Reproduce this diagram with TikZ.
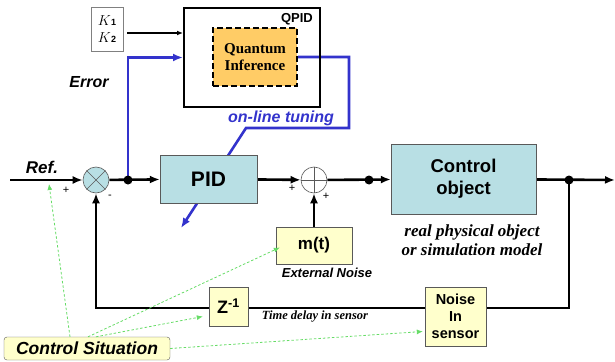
\documentclass[tikz,border=0pt]{standalone}
\usepackage{fontspec}
\setmainfont{Liberation Serif}
\setsansfont{Liberation Sans}
\usetikzlibrary{arrows.meta,calc,positioning}
\definecolor{blockcyan}{RGB}{184,223,228}
\definecolor{noiseyellow}{RGB}{255,255,204}
\definecolor{qorange}{RGB}{255,204,102}
\definecolor{tuneblue}{RGB}{51,51,204}
\definecolor{hintgreen}{RGB}{102,220,102}
\pgfdeclarelayer{edgelayer}
\pgfsetlayers{edgelayer,main}
\tikzset{
  blockbox/.style={draw=gray!70!black,fill=blockcyan,font=\sffamily\bfseries,align=center,inner sep=0pt},
  noisebox/.style={draw=gray!70!black,fill=noiseyellow,font=\sffamily\bfseries,align=center,inner sep=0pt},
  sumnode/.style={circle,draw=gray!70!black,line width=0.6pt,minimum size=26pt,inner sep=0pt},
  junction/.style={circle,fill=black,inner sep=0pt,minimum size=9pt},
  sig/.style={line width=2.6pt,-{Latex[length=10pt,width=8pt]}},
  tune/.style={tuneblue,line width=2.6pt},
  hint/.style={hintgreen,line width=0.8pt,dash pattern=on 2.5pt off 2pt,-{Latex[length=6pt,width=5pt]}},
  signtext/.style={font=\sffamily\fontsize{11}{11}\selectfont,inner sep=0pt},
}

\begin{document}
\begin{tikzpicture}[x=1pt,y=-1pt]
\useasboundingbox (0,0) rectangle (615,361);
% forward path
\coordinate (refin) at (10,180);
\node[sumnode,fill=blockcyan] (s1) at (96,180) {};
\draw[gray!70!black,line width=0.6pt] (s1.north west) -- (s1.south east) (s1.north east) -- (s1.south west);
\node[junction] (d1) at (128,180) {};
\node[blockbox,minimum width=97pt,minimum height=48pt,font=\sffamily\bfseries\fontsize{21}{21}\selectfont] (pid) at (208.5,179) {PID};
\node[sumnode,fill=white] (s2) at (314,180) {};
\draw[gray!70!black,line width=0.6pt] (s2.north) -- (s2.south) (s2.west) -- (s2.east);
\node[junction] (d2) at (369,180) {};
\node[blockbox,minimum width=145pt,minimum height=70pt,font=\sffamily\bfseries\fontsize{18.5}{22}\selectfont] (plant) at (463.5,179) {Control\\object};
\node[junction] (d3) at (569,180) {};
\coordinate (out) at (615,180);
% disturbances and sensor
\node[noisebox,minimum width=76pt,minimum height=37pt,font=\sffamily\bfseries\fontsize{17}{17}\selectfont] (mt) at (314,245.5) {m(t)};
\node[noisebox,minimum width=39pt,minimum height=39pt,font=\sffamily\bfseries\fontsize{18}{18}\selectfont] (zd) at (228.5,306.5) {Z\textsuperscript{-1}};
\node[noisebox,minimum width=61pt,minimum height=59pt,font=\sffamily\bfseries\fontsize{14.5}{17}\selectfont] (ns) at (455.5,316.5) {Noise\\In\\sensor};
\node[noisebox,rounded corners=3pt,minimum width=166pt,minimum height=23pt,font=\sffamily\bfseries\itshape\fontsize{17.5}{17.5}\selectfont] (cs) at (87,348.5) {Control Situation};
\coordinate (fbr) at (569,308);
\coordinate (fbl) at (96,308);
% tuning part
\node[draw,line width=2pt,minimum width=136pt,minimum height=99pt] (qpid) at (252,57.5) {};
\node[anchor=north east,inner sep=0pt,font=\sffamily\bfseries\fontsize{13}{13}\selectfont] (qpidlabel) at ($(qpid.north east)+(-8,6)$) {QPID};
\node[draw,dash pattern=on 6pt off 3pt,line width=1.8pt,fill=qorange,minimum width=84pt,minimum height=58pt,align=center,inner sep=0pt,font=\bfseries\fontsize{15}{17}\selectfont] (qi) at (255,57) {Quantum\\Inference};
\node[draw=gray,line width=0.6pt,minimum width=32pt,minimum height=44pt,align=center,inner sep=0pt,font=\fontsize{15}{17}\selectfont] (kbox) at (107,29) {$K$\textsf{\bfseries\small 1}\\$K$\textsf{\bfseries\small 2}};
\coordinate (tr1) at (349,57);
\coordinate (tr2) at (349,128);
\coordinate (tr3) at (246,128);
\coordinate (tunetip) at (181,228);
% labels
\node[font=\sffamily\bfseries\itshape\fontsize{17}{17}\selectfont] (reflabel) at (42,167) {Ref.};
\node[font=\sffamily\bfseries\itshape\fontsize{16}{16}\selectfont] (errlabel) at (89,82) {Error};
\node[tuneblue,font=\sffamily\bfseries\itshape\fontsize{16}{16}\selectfont] (tunelabel) at (281,118) {on-line tuning};
\node[signtext] (p1) at (66,190) {+};
\node[signtext] (m1) at (110,197) {-};
\node[signtext] (p2) at (292,188) {+};
\node[signtext] (p3) at (326,196) {+};
\node[font=\sffamily\bfseries\itshape\fontsize{13}{13}\selectfont] (extlabel) at (327,273) {External Noise};
\node[align=center,font=\bfseries\itshape\fontsize{17}{19}\selectfont] (plantlabel) at (472,240) {real physical object\\or simulation model};
\node[font=\bfseries\itshape\fontsize{12.5}{12.5}\selectfont] (delaylabel) at (315,317) {Time delay in sensor};
% connectors
\begin{pgfonlayer}{edgelayer}
\draw[sig] (refin) -- (s1);
\draw[sig] (s1) -- (pid);
\draw[sig] (pid) -- (s2);
\draw[sig] (s2) -- (plant);
\draw[sig] (plant) -- (out);
\draw[sig] (mt) -- (s2);
\draw[sig] (d3.center) -- (fbr) -- (fbl) -- (s1.south);
\draw[line width=1.2pt,-{Latex[length=6pt,width=5pt]}] (kbox.east) ++(4,4) -- ($(qpid.west)+(0,-24.5)$);
\draw[tune,-{Latex[length=10pt,width=8pt]}] (d1.center) |- (qpid.west);
\draw[tune,-{Latex[length=10pt,width=8pt]}] (qi.east) -- (tr1) -- (tr2) -- (tr3) -- (tunetip);
\end{pgfonlayer}
\draw[hint] ($(cs.north)+(-17,0)$) -- (49,184);
\draw[hint] ($(cs.north)+(1,0)$) -- ($(mt.west)+(4,2)$);
\draw[hint] ($(cs.north)+(9,0)$) -- ($(zd.west)+(-6,10)$);
\draw[hint] (cs.east) -- ($(ns.west)+(-2,15)$);
\end{tikzpicture}
\end{document}
